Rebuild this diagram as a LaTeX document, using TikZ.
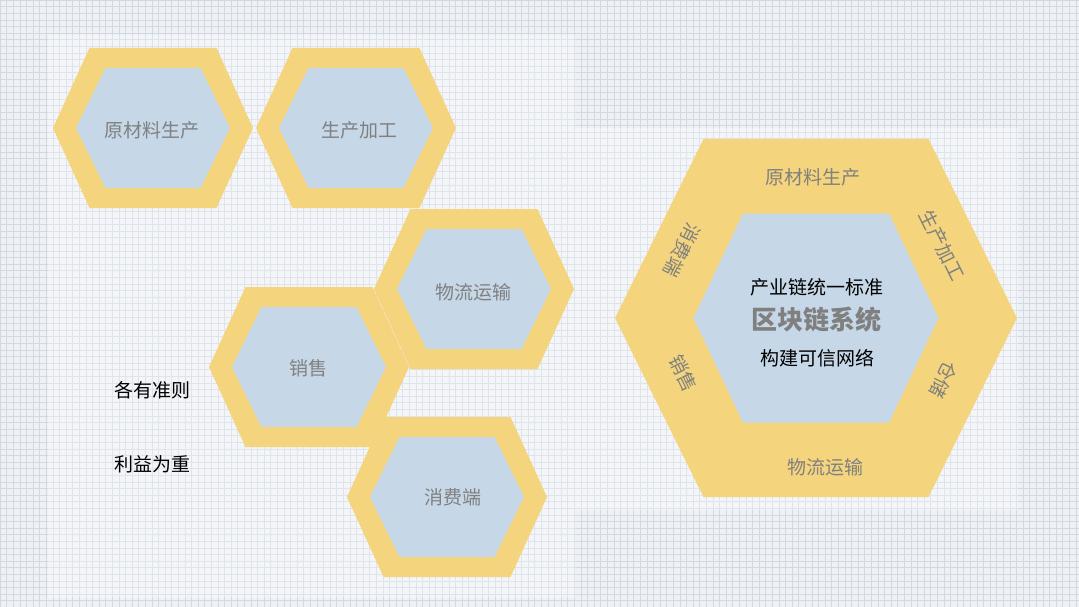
\documentclass[tikz,border=0pt]{standalone}
\usepackage{fontspec}
\setmainfont{Noto Sans CJK SC}
\usetikzlibrary{calc}

\definecolor{honey}{HTML}{F4D47C}
\definecolor{paleblue}{HTML}{C6D7E7}
\definecolor{labelgray}{HTML}{808080}
\definecolor{bggray}{HTML}{EEF2F6}
\definecolor{gridgray}{HTML}{D2D9E1}

% hexagon with flat top, drawn from its centre: half width, half top edge, half height
\newcommand{\hexpath}[3]{++(-#1,0) -- ++({#1-#2},-#3) -- ++({2*#2},0) -- ++({#1-#2},#3)
  -- ++({#2-#1},#3) -- ++({-2*#2},0) -- cycle}

\tikzset{
  outerhex/.style={fill=honey},
  innerhex/.style={fill=paleblue},
  hexlabel/.style={text=labelgray,inner sep=0pt,font=\fontsize{19}{19}\selectfont},
  plainlabel/.style={text=black,inner sep=0pt,font=\fontsize{19}{19}\selectfont},
  titlelabel/.style={text=labelgray,inner sep=0pt,font=\fontsize{26}{26}\selectfont\bfseries},
  gridline/.style={gridgray,line width=0.4pt},
}

\begin{document}
\begin{tikzpicture}[x=1pt,y=-1pt]
        \useasboundingbox (0,0) rectangle (1079,607);
        \fill[bggray] (0,0) rectangle (1079,607);
        % grid of the background
        \foreach \gx in {0,6.6,...,1079} \draw[gridline] (\gx,0) -- (\gx,607);
        \foreach \gy in {0,6.6,...,607} \draw[gridline] (0,\gy) -- (1079,\gy);
        \fill[white,opacity=0.3] (48,35) rectangle (575,598);
        \fill[white,opacity=0.3] (575,128) rectangle (1018,510);

        % small cells
        \coordinate (raw) at (153,128);
        \coordinate (make) at (356,128);
        \coordinate (ship) at (474,289);
        \coordinate (sell) at (309,367);
        \coordinate (user) at (447,497);
        \foreach \c in {raw,make,ship,sell,user} {
          \fill[outerhex] (\c) \hexpath{100}{63.5}{80};
          \fill[innerhex] (\c) \hexpath{77}{47.5}{60};
        }
        \node[hexlabel] (rawlbl) at (152,130) {原材料生产};
        \node[hexlabel] (makelbl) at (359,130) {生产加工};
        \node[hexlabel] (shiplbl) at (473,292) {物流运输};
        \node[hexlabel] (selllbl) at (308,368) {销售};
        \node[hexlabel] (userlbl) at (453,497) {消费端};

        \node[plainlabel] (rule) at (152,390) {各有准则};
        \node[plainlabel] (gain) at (152,464) {利益为重};

        % big cell
        \coordinate (chain) at (816,318);
        \fill[outerhex] (chain) \hexpath{201}{112.5}{179};
        \fill[innerhex] (chain) \hexpath{122.5}{73}{104.5};
        \node[hexlabel] (ringraw) at (813,177) {原材料生产};
        \node[hexlabel,rotate=-63.6] (ringmake) at (942,245) {生产加工};
        \node[hexlabel,rotate=-116.4] (ringstore) at (944,380) {仓储};
        \node[hexlabel] (ringship) at (825,467) {物流运输};
        \node[hexlabel,rotate=-63.6] (ringsell) at (683,373) {销售};
        \node[hexlabel,rotate=-116.4] (ringuser) at (682,250) {消费端};

        \node[plainlabel] (std) at (817,287) {产业链统一标准};
        \node[titlelabel] (sys) at (816,320) {区块链系统};
        \node[plainlabel] (trust) at (817,358) {构建可信网络};
      \end{tikzpicture}
\end{document}
